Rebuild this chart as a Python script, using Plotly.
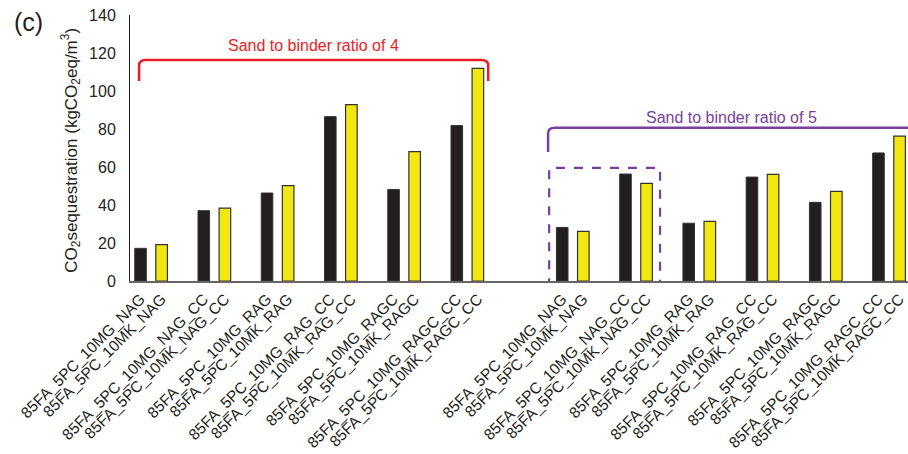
import plotly.graph_objects as go

# Mix designs (each pair: 10MG binder then 10MK binder)
mixes = ["NAG", "NAG_CC", "RAG", "RAG_CC", "RAGC", "RAGC_CC"]
mg_labels = ["85FA_5PC_10MG_" + m for m in mixes]
mk_labels = ["85FA_5PC_10MK_" + m for m in mixes]

# CO2 sequestration (kgCO2eq/m3), sand to binder ratio of 4
mg_ratio4 = [17.2, 37.0, 46.3, 86.5, 48.2, 81.8]
mk_ratio4 = [19.1, 38.4, 50.2, 92.8, 68.1, 111.9]
# CO2 sequestration (kgCO2eq/m3), sand to binder ratio of 5
mg_ratio5 = [28.2, 56.3, 30.4, 54.7, 41.4, 67.4]
mk_ratio5 = [26.1, 51.4, 31.4, 56.1, 47.2, 76.2]

y_ticks = [0, 20, 40, 60, 80, 100, 120, 140]

FONT = "Arial, Liberation Sans, sans-serif"
BLACK = "#231f20"
YELLOW = "#f2e710"
RED = "#ec1c24"
PURPLE = "#7a3f9d"

# slot layout: pairs separated by one empty slot, groups by three
group_start = [0, 20]
pair_step = 3

mg_x, mk_x, mg_y, mk_y = [], [], [], []
tick_vals, tick_text = [], []
for g, (mg, mk) in enumerate([(mg_ratio4, mk_ratio4), (mg_ratio5, mk_ratio5)]):
    for i in range(len(mixes)):
        xm = group_start[g] + i * pair_step
        mg_x.append(xm)
        mk_x.append(xm + 1)
        mg_y.append(mg[i])
        mk_y.append(mk[i])
        tick_vals += [xm, xm + 1]
        tick_text += [mg_labels[i], mk_labels[i]]

fig = go.Figure()
fig.add_trace(go.Bar(x=mg_x, y=mg_y, width=0.55, name="10MG",
                     marker=dict(color=BLACK, line=dict(color="#333333", width=1))))
fig.add_trace(go.Bar(x=mk_x, y=mk_y, width=0.55, name="10MK",
                     marker=dict(color=YELLOW, line=dict(color="#333333", width=1.2))))

x_min, x_max = -0.5, 36.4

shapes = []
# red bracket over the ratio-4 group
shapes.append(dict(type="path", xref="x", yref="y",
                   path="M -0.07,105.3 L -0.07,113.3 Q -0.07,116.3 0.25,116.3 "
                        "L 16.17,116.3 Q 16.49,116.3 16.49,113.3 L 16.49,105.3",
                   line=dict(color=RED, width=2.5)))
# purple bracket over the ratio-5 group
shapes.append(dict(type="path", xref="x", yref="y",
                   path="M 19.33,67.9 L 19.33,77.7 Q 19.33,80.7 19.65,80.7 L 36.5,80.7",
                   line=dict(color=PURPLE, width=2.5)))
# dashed box around the first ratio-5 pairs
shapes.append(dict(type="rect", xref="x", yref="y", x0=19.38, x1=24.64, y0=-2.6, y1=59.5,
                   line=dict(color=PURPLE, width=2.2, dash="dash")))

annotations = [
    dict(text="Sand to binder ratio of 4", x=8.2, y=123.7, xref="x", yref="y",
         xanchor="center", yanchor="middle",
         showarrow=False, font=dict(family=FONT, size=16, color=RED)),
    dict(text="Sand to binder ratio of 5", x=28.05, y=86.3, xref="x", yref="y",
         xanchor="center", yanchor="middle",
         showarrow=False, font=dict(family=FONT, size=16, color=PURPLE)),
    dict(text="(c)", x=-0.131, y=0.972, xref="paper", yref="paper",
         xanchor="center", yanchor="middle",
         showarrow=False, font=dict(family=FONT, size=25, color="#231f20")),
    dict(text="CO<sub>2</sub>sequestration (kgCO<sub>2</sub>eq/m<sup>3</sup>)",
         x=-0.0764, y=0.492, xref="paper", yref="paper", textangle=-90,
         xanchor="center", yanchor="middle",
         showarrow=False, font=dict(family=FONT, size=17, color="#231f20")),
]

fig.update_layout(
    width=908, height=454,
    margin=dict(l=130, r=0, t=15, b=173, autoexpand=False),
    paper_bgcolor="white", plot_bgcolor="white",
    showlegend=False,
    barmode="overlay",
    font=dict(family=FONT, size=16, color="#231f20"),
    shapes=shapes,
    annotations=annotations,
)
fig.update_xaxes(range=[x_min, x_max], tickmode="array", tickvals=tick_vals, ticktext=tick_text,
                 tickangle=-45, tickfont=dict(family=FONT, size=15.5, color="#231f20"),
                 showline=True, linecolor="#666666", linewidth=2, ticks="",
                 showgrid=False, zeroline=False, ticklabelstandoff=1, automargin=False,
                 ticklabeloverflow="allow")
fig.update_yaxes(range=[0, 140], tickvals=y_ticks, tickfont=dict(family=FONT, size=16, color="#231f20"),
                 showline=True, linecolor="#231f20", linewidth=1, ticks="",
                 showgrid=False, zeroline=False, ticklabelstandoff=10, automargin=False)

fig.write_html("out.html")
